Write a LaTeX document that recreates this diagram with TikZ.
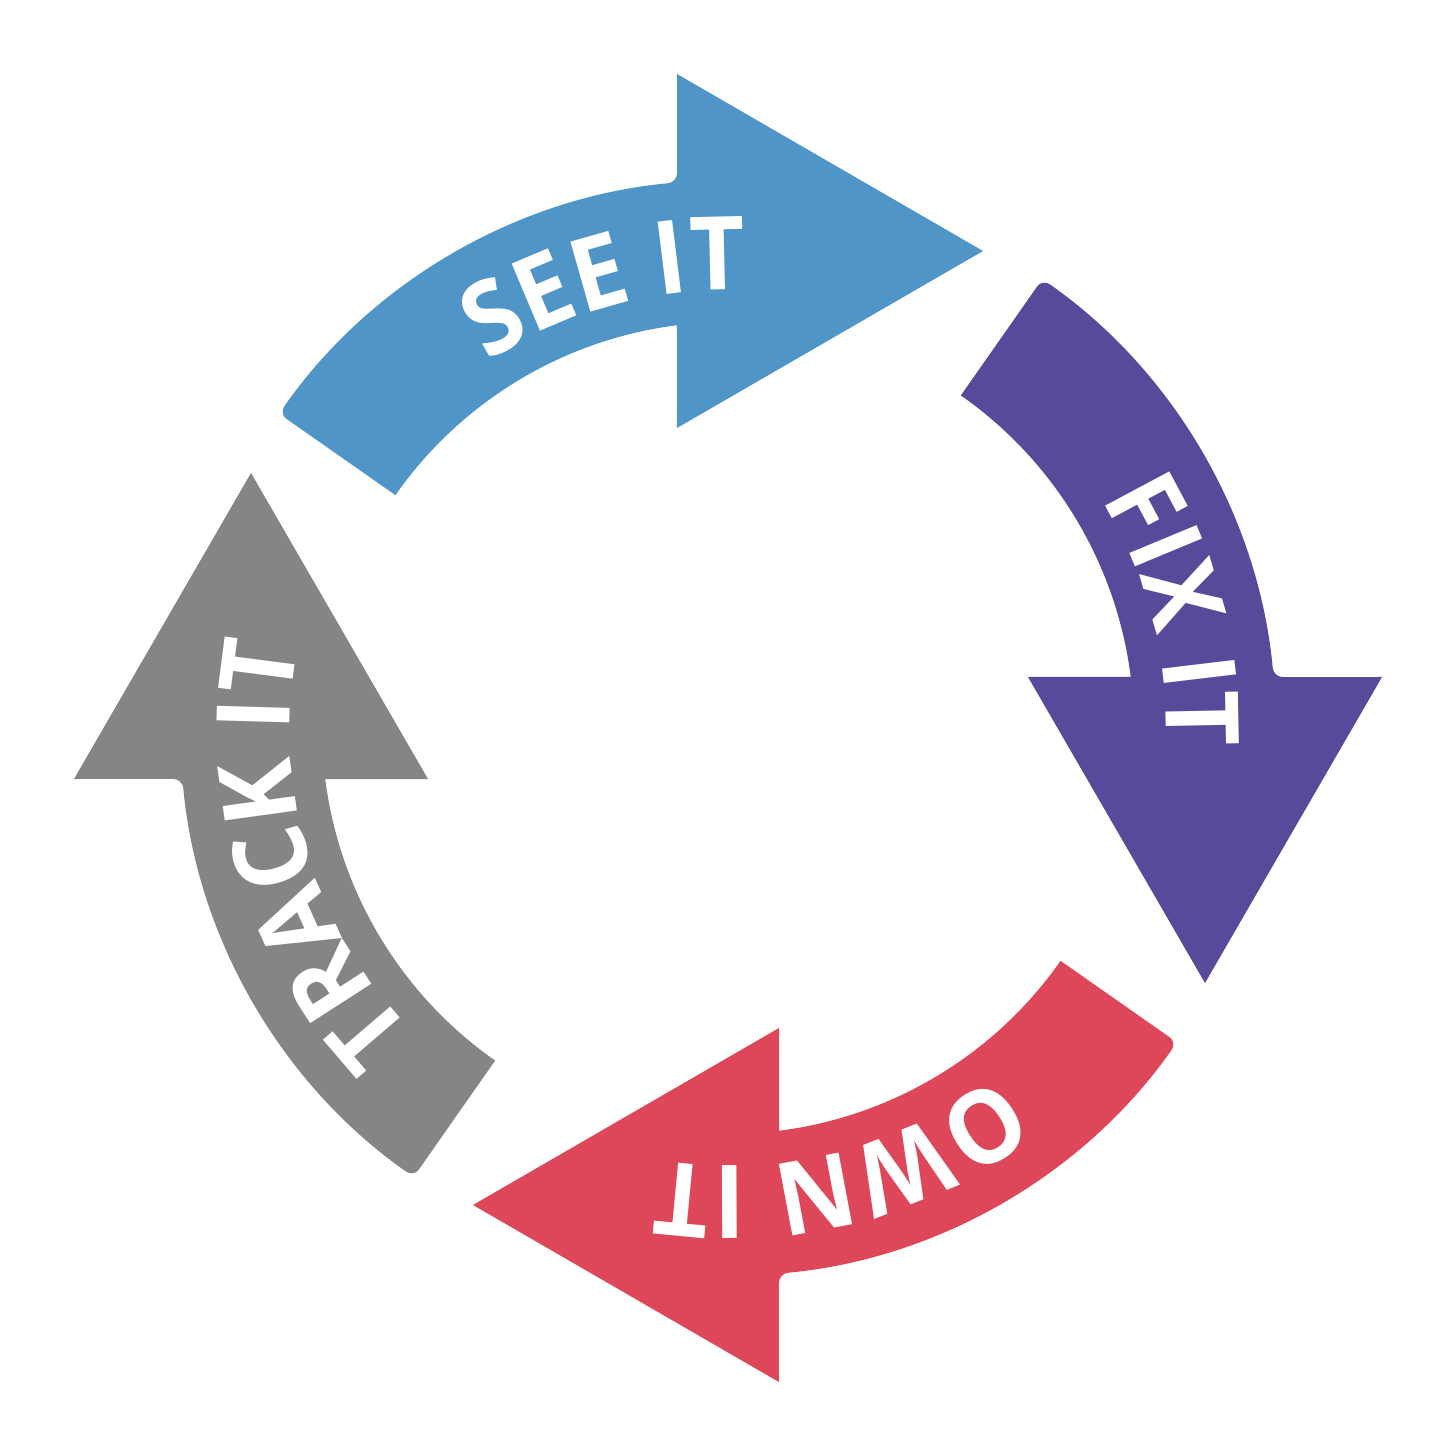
\documentclass[tikz,border=0pt]{standalone}
\usepackage{fontspec}
\setmainfont{Open Sans}[FakeStretch=0.94]
\usetikzlibrary{decorations.text}
\definecolor{cblue}{RGB}{79,149,200}
\definecolor{cpurple}{RGB}{86,74,155}
\definecolor{cred}{RGB}{222,71,89}
\definecolor{cgray}{RGB}{133,133,133}
\newcommand\cyclabelfont{\color{white}\bfseries\fontsize{102}{102}\selectfont}
\newcommand\cycarrow[4]{%
\begin{scope}[rotate=#1]
\fill[#2] (145:477) [rounded corners=9] -- (145:548)
  arc[start angle=145,end angle=95.34,radius=548] [sharp corners]
  -- (-51,654) -- (255,477) -- (-51,300) -- (97.22:406)
  arc[start angle=97.22,end angle=145,radius=406] -- cycle;
\path[decorate,decoration={text along path,text align=center,
  text={|\cyclabelfont|#3}}]
  ({#4+35}:438) arc[start angle={#4+35},end angle={#4-35},radius=438];
\end{scope}}
\begin{document}
\begin{tikzpicture}[x=1pt,y=1pt]
\useasboundingbox (-728,-728) rectangle (728,728);
\cycarrow{0}{cblue}{SEE IT}{105.5}
\cycarrow{-90}{cpurple}{FIX IT}{104.5}
\cycarrow{-180}{cred}{OWN IT}{104.4}
\cycarrow{90}{cgray}{TRACK IT}{106.6}
\end{tikzpicture}
\end{document}
